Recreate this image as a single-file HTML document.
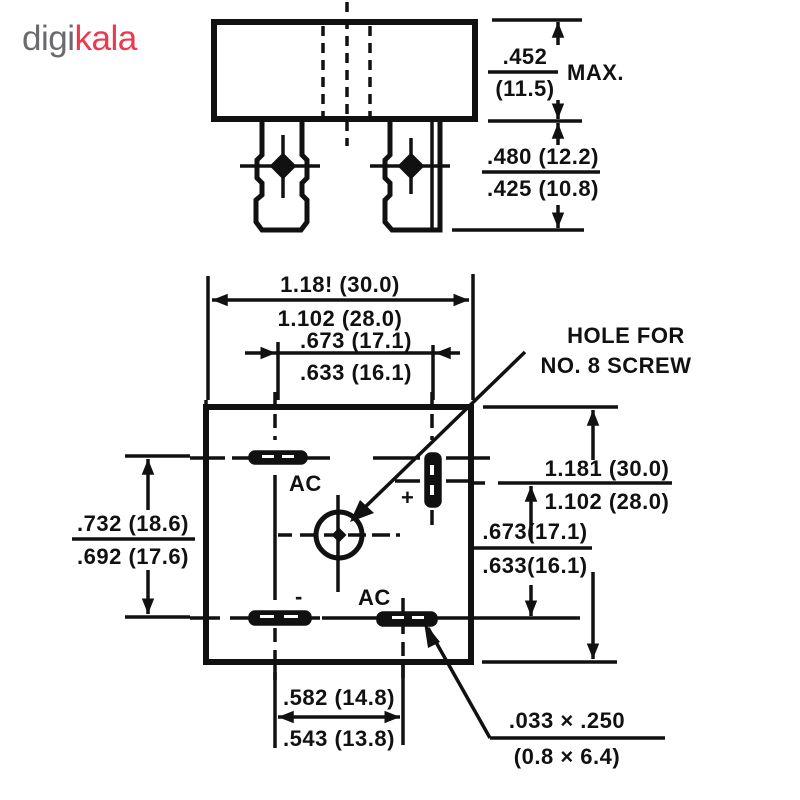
<!DOCTYPE html>
<html><head><meta charset="utf-8"><style>
html,body{margin:0;padding:0;background:#fff;}
svg{display:block}
text{font-family:"Liberation Sans",sans-serif;font-weight:bold;fill:#111;}
</style></head><body>
<svg width="800" height="800" viewBox="0 0 800 800" xmlns="http://www.w3.org/2000/svg">
<defs>
<marker id="a" viewBox="0 0 10 10" refX="10" refY="5" markerWidth="4.5" markerHeight="4.5" orient="auto-start-reverse"><path d="M0,1 L10,5 L0,9 Z" fill="#111"/></marker>
</defs>
<text x="22" y="50" font-size="35" style="font-weight:normal;fill:#6b6b6e;letter-spacing:-0.5px">digi<tspan style="fill:#ee384e">kala</tspan></text>

<g stroke="#111" fill="none" stroke-width="3.5">
<!-- TOP VIEW -->
<rect x="214" y="22" width="261" height="97" stroke-width="6"/>
<line x1="323" y1="26" x2="323" y2="116" stroke-dasharray="10,7"/>
<line x1="347" y1="2" x2="347" y2="146" stroke-dasharray="10,7"/>
<line x1="370" y1="26" x2="370" y2="116" stroke-dasharray="10,7"/>
<path d="M262,120 V155 L257,160 V178 L262,183 V195 L256,200 V222 L262,230 H301 L307,222 V200 L302,195 V183 L307,178 V160 L302,155 V120" stroke-width="5"/>
<line x1="240" y1="166" x2="320" y2="166"/>
<line x1="283" y1="135" x2="283" y2="198"/>
<path d="M283,155 L294,166 L283,177 L272,166 Z" fill="#111"/>
<path d="M390,120 V155 L385,160 V178 L390,183 V195 L385,200 V222 L392,230 H440 V120" stroke-width="5"/>
<line x1="432" y1="120" x2="432" y2="230"/>
<line x1="370" y1="166" x2="450" y2="166"/>
<line x1="411" y1="138" x2="411" y2="194"/>
<path d="M411,155 L422,166 L411,177 L400,166 Z" fill="#111"/>
<line x1="492" y1="20" x2="582" y2="20"/>
<line x1="488" y1="121" x2="582" y2="121"/>
<line x1="452" y1="230" x2="584" y2="230"/>
<line x1="558" y1="45" x2="558" y2="22" marker-end="url(#a)"/>
<line x1="558" y1="100" x2="558" y2="119" marker-end="url(#a)"/>
<line x1="558" y1="145" x2="558" y2="123" marker-end="url(#a)"/>
<line x1="558" y1="205" x2="558" y2="228" marker-end="url(#a)"/>
<line x1="488" y1="72" x2="558" y2="72"/>
<line x1="482" y1="172" x2="600" y2="172"/>

<!-- BOTTOM VIEW -->
<rect x="206" y="407" width="265" height="255" stroke-width="6"/>
<line x1="208" y1="276" x2="208" y2="400"/>
<line x1="473" y1="274" x2="473" y2="400"/>
<line x1="212" y1="300" x2="469" y2="300" marker-start="url(#a)" marker-end="url(#a)"/>
<line x1="278" y1="342" x2="278" y2="400"/>
<line x1="433" y1="345" x2="433" y2="400"/>
<line x1="245" y1="353" x2="276" y2="353" marker-end="url(#a)"/>
<line x1="276" y1="353" x2="435" y2="353"/>
<line x1="460" y1="353" x2="435" y2="353" marker-end="url(#a)"/>
<line x1="525" y1="352" x2="360" y2="512"/>
<path d="M350,522 L360,500 L374,513 Z" fill="#111" stroke="none"/>
<line x1="125" y1="456" x2="190" y2="456"/>
<line x1="125" y1="617" x2="190" y2="617"/>
<line x1="148" y1="510" x2="148" y2="459" marker-end="url(#a)"/>
<line x1="148" y1="570" x2="148" y2="614" marker-end="url(#a)"/>
<line x1="72" y1="539" x2="195" y2="539"/>
<line x1="206" y1="662" x2="206" y2="400"/>
<line x1="483" y1="407" x2="618" y2="407"/>
<line x1="593" y1="460" x2="593" y2="410" marker-end="url(#a)"/>
<line x1="472" y1="483" x2="485" y2="483"/>
<line x1="498" y1="483" x2="672" y2="483"/>
<line x1="531" y1="540" x2="531" y2="486" marker-end="url(#a)"/>
<line x1="472" y1="548" x2="592" y2="548"/>
<line x1="531" y1="585" x2="531" y2="616" marker-end="url(#a)"/>
<line x1="470" y1="618" x2="580" y2="618"/>
<line x1="593" y1="572" x2="593" y2="659" marker-end="url(#a)"/>
<line x1="482" y1="662" x2="617" y2="662"/>
<line x1="275" y1="665" x2="275" y2="748"/>
<line x1="403" y1="665" x2="403" y2="745"/>
<line x1="278" y1="717" x2="400" y2="717" marker-start="url(#a)" marker-end="url(#a)"/>
<line x1="428" y1="628" x2="490" y2="738"/>
<path d="M424,622 L440,642 L428,648 Z" fill="#111" stroke="none"/>
<line x1="490" y1="738" x2="665" y2="738"/>

<line x1="275" y1="392" x2="275" y2="440" stroke-dasharray="14,8"/>
<line x1="275" y1="475" x2="275" y2="600"/>
<line x1="275" y1="628" x2="275" y2="680" stroke-dasharray="14,8"/>
<line x1="432" y1="392" x2="432" y2="440" stroke-dasharray="14,8"/>
<line x1="432" y1="510" x2="432" y2="525"/>
<line x1="403" y1="598" x2="403" y2="680" stroke-dasharray="14,8"/>
<line x1="190" y1="458" x2="225" y2="458"/>
<line x1="232" y1="458" x2="330" y2="458"/>
<line x1="373" y1="458" x2="420" y2="458"/>
<line x1="446" y1="458" x2="490" y2="458"/>
<line x1="395" y1="481" x2="420" y2="481"/>
<line x1="446" y1="481" x2="470" y2="481"/>
<line x1="190" y1="618" x2="220" y2="618"/>
<line x1="230" y1="618" x2="320" y2="618"/>
<line x1="322" y1="618" x2="470" y2="618"/>
<line x1="278" y1="535" x2="292" y2="535"/>
<line x1="300" y1="535" x2="400" y2="535" stroke-dasharray="18,6"/>
<line x1="338" y1="495" x2="338" y2="592"/>
<circle cx="339" cy="535" r="23" stroke-width="5"/>
<path d="M339,530 L344,535 L339,540 L334,535Z" fill="#111"/>
<rect x="250" y="452" width="56" height="11" rx="5" fill="#111"/>
<rect x="250" y="612" width="60" height="12" rx="5" fill="#111"/>
<rect x="378" y="613" width="58" height="12" rx="5" fill="#111"/>
<rect x="426" y="454" width="14" height="52" rx="5" fill="#111"/>
</g>
<g fill="#fff">
<rect x="262" y="455" width="12" height="3"/><rect x="282" y="455" width="12" height="3"/>
<rect x="260" y="615" width="14" height="3"/><rect x="284" y="615" width="14" height="3"/>
<rect x="392" y="616" width="12" height="3"/><rect x="412" y="616" width="12" height="3"/>
<rect x="430" y="465" width="4" height="10"/><rect x="430" y="485" width="4" height="10"/>
</g>

<g font-size="22" style="letter-spacing:0.5px">
<text x="525" y="64" text-anchor="middle">.452</text>
<text x="525" y="96" text-anchor="middle">(11.5)</text>
<text x="567" y="80" font-size="22">MAX.</text>
<text x="543" y="164" text-anchor="middle">.480 (12.2)</text>
<text x="543" y="196" text-anchor="middle">.425 (10.8)</text>
<text x="340" y="292" text-anchor="middle">1.18! (30.0)</text>
<text x="340" y="326" text-anchor="middle">1.102 (28.0)</text>
<text x="356" y="348" text-anchor="middle">.673 (17.1)</text>
<text x="356" y="380" text-anchor="middle">.633 (16.1)</text>
<text x="626" y="343" text-anchor="middle">HOLE FOR</text>
<text x="616" y="373" text-anchor="middle">NO. 8 SCREW</text>
<text x="133" y="531" text-anchor="middle">.732 (18.6)</text>
<text x="133" y="564" text-anchor="middle">.692 (17.6)</text>
<text x="607" y="476" text-anchor="middle">1.181 (30.0)</text>
<text x="607" y="509" text-anchor="middle">1.102 (28.0)</text>
<text x="535" y="539" text-anchor="middle">.673(17.1)</text>
<text x="535" y="573" text-anchor="middle">.633(16.1)</text>
<text x="339" y="705" text-anchor="middle">.582 (14.8)</text>
<text x="339" y="746" text-anchor="middle">.543 (13.8)</text>
<text x="567" y="728" text-anchor="middle">.033 × .250</text>
<text x="567" y="764" text-anchor="middle">(0.8 × 6.4)</text>
<text x="289" y="491">AC</text>
<text x="358" y="605">AC</text>
<text x="401" y="505">+</text>
<text x="295" y="604">-</text>
</g>
</svg>
</body></html>
